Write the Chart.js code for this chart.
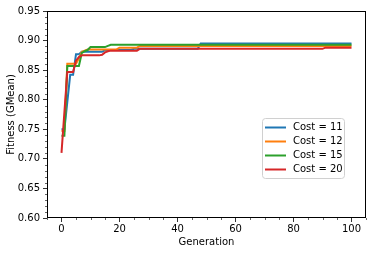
<!DOCTYPE html>
<html><head><meta charset="utf-8">
<script src="https://cdn.jsdelivr.net/npm/chart.js@4/dist/chart.umd.min.js"></script>
<style>html,body{margin:0;padding:0;background:#fff}#wrap{width:374px;height:254px;position:relative}</style>
</head><body><div id="wrap"><canvas id="c"></canvas></div>
<script>
const generations = [0,1,2,3,4,5,6,7,8,9,10,11,12,13,14,15,16,17,18,19,20,21,22,23,24,25,26,27,28,29,30,31,32,33,34,35,36,37,38,39,40,41,42,43,44,45,46,47,48,49,50,51,52,53,54,55,56,57,58,59,60,61,62,63,64,65,66,67,68,69,70,71,72,73,74,75,76,77,78,79,80,81,82,83,84,85,86,87,88,89,90,91,92,93,94,95,96,97,98,99,100];

const seriesLabels = ['Cost = 11','Cost = 12','Cost = 15','Cost = 20'];

const cost11 = [0.750,0.750,0.796,0.842,0.842,0.877,0.877,0.881,0.881,0.881,
0.881,0.881,0.881,0.881,0.881,0.884,0.884,0.884,0.884,0.884,
0.884,0.884,0.884,0.884,0.884,0.886,0.886,0.886,0.886,0.886,
0.886,0.886,0.886,0.886,0.886,0.886,0.886,0.886,0.886,0.886,
0.886,0.886,0.886,0.886,0.886,0.886,0.886,0.886,0.895,0.895,
0.895,0.895,0.895,0.895,0.895,0.895,0.895,0.895,0.895,0.895,
0.895,0.895,0.895,0.895,0.895,0.895,0.895,0.895,0.895,0.895,
0.895,0.895,0.895,0.895,0.895,0.895,0.895,0.895,0.895,0.895,
0.895,0.895,0.895,0.895,0.895,0.895,0.895,0.895,0.895,0.895,
0.895,0.895,0.895,0.895,0.895,0.895,0.895,0.895,0.895,0.895,
0.895];

const cost12 = [0.747,0.747,0.861,0.861,0.861,0.861,0.870,0.881,0.883,0.885,
0.885,0.885,0.885,0.885,0.885,0.885,0.885,0.885,0.885,0.885,
0.888,0.888,0.888,0.888,0.888,0.888,0.888,0.891,0.891,0.891,
0.891,0.891,0.891,0.891,0.891,0.891,0.891,0.891,0.891,0.891,
0.891,0.891,0.891,0.891,0.891,0.891,0.891,0.891,0.891,0.891,
0.891,0.891,0.891,0.891,0.891,0.891,0.891,0.891,0.891,0.891,
0.891,0.891,0.891,0.891,0.891,0.891,0.891,0.891,0.891,0.891,
0.891,0.891,0.891,0.891,0.891,0.891,0.891,0.891,0.891,0.891,
0.891,0.891,0.891,0.891,0.891,0.891,0.891,0.891,0.891,0.891,
0.891,0.891,0.891,0.891,0.891,0.891,0.891,0.891,0.891,0.891,
0.891];

const cost15 = [0.739,0.739,0.857,0.857,0.857,0.857,0.857,0.879,0.882,0.884,
0.889,0.889,0.889,0.889,0.889,0.889,0.891,0.893,0.893,0.893,
0.893,0.893,0.893,0.893,0.893,0.893,0.893,0.893,0.893,0.893,
0.893,0.893,0.893,0.893,0.893,0.893,0.893,0.893,0.893,0.893,
0.893,0.893,0.893,0.893,0.893,0.893,0.893,0.893,0.893,0.893,
0.893,0.893,0.893,0.893,0.893,0.893,0.893,0.893,0.893,0.893,
0.893,0.893,0.893,0.893,0.893,0.893,0.893,0.893,0.893,0.893,
0.893,0.893,0.893,0.893,0.893,0.893,0.893,0.893,0.893,0.893,
0.893,0.893,0.893,0.893,0.893,0.893,0.893,0.893,0.893,0.893,
0.893,0.893,0.893,0.893,0.893,0.893,0.893,0.893,0.893,0.893,
0.893];

const cost20 = [0.710,0.779,0.847,0.847,0.847,0.866,0.872,0.875,0.875,0.875,
0.875,0.875,0.875,0.875,0.876,0.880,0.882,0.883,0.883,0.883,
0.883,0.883,0.883,0.883,0.883,0.883,0.883,0.886,0.886,0.886,
0.886,0.886,0.886,0.886,0.886,0.886,0.886,0.886,0.886,0.886,
0.886,0.886,0.886,0.886,0.886,0.886,0.886,0.886,0.886,0.886,
0.886,0.886,0.886,0.886,0.886,0.886,0.886,0.886,0.886,0.886,
0.886,0.886,0.886,0.886,0.886,0.886,0.886,0.886,0.886,0.886,
0.886,0.886,0.886,0.886,0.886,0.886,0.886,0.886,0.886,0.886,
0.886,0.886,0.886,0.886,0.886,0.886,0.886,0.886,0.886,0.886,
0.886,0.888,0.888,0.888,0.888,0.888,0.888,0.888,0.888,0.888,
0.888];

const xTickValues = [0,20,40,60,80,100];
const xMinorValues = [-5,5,10,15,25,30,35,45,50,55,65,70,75,85,90,95,105];
const yTickValues = [0.60,0.65,0.70,0.75,0.80,0.85,0.90,0.95];
const yMinorValues = [0.61,0.62,0.63,0.64,0.66,0.67,0.68,0.69,0.71,0.72,0.73,0.74,0.76,0.77,0.78,0.79,0.81,0.82,0.83,0.84,0.86,0.87,0.88,0.89,0.91,0.92,0.93,0.94];

const colors = ['#1f77b4','#ff7f0e','#2ca02c','#d62728'];
const FONT = 'DejaVu Sans';

const decor = {
  id: 'decor',
  afterDraw(chart) {
    const ctx = chart.ctx, a = chart.chartArea;
    const xs = chart.scales.x, ys = chart.scales.y;
    ctx.save();
    ctx.strokeStyle = '#000'; ctx.lineWidth = 0.6;
    ctx.beginPath();
    xMinorValues.forEach(v => { const px = Math.round(xs.getPixelForValue(v)) + 0.5; ctx.moveTo(px, a.bottom); ctx.lineTo(px, a.bottom + 2); });
    yMinorValues.forEach(v => { const py = Math.round(ys.getPixelForValue(v)) + 0.5; ctx.moveTo(a.left, py); ctx.lineTo(a.left - 2, py); });
    ctx.stroke();
    ctx.lineWidth = 1; ctx.strokeStyle = '#000';
    ctx.strokeRect(Math.round(a.left) + 0.5, Math.round(a.top) + 0.5, Math.round(a.right - a.left) - 1, Math.round(a.bottom - a.top) - 1);
    const lx = a.right - 104, ly = a.bottom - 100, lw = 82, lh = 60;
    ctx.fillStyle = 'rgba(255,255,255,0.8)';
    ctx.strokeStyle = '#d0d0d0'; ctx.lineWidth = 1;
    ctx.beginPath();
    if (ctx.roundRect) ctx.roundRect(lx + 0.5, ly + 0.5, lw, lh, 3); else ctx.rect(lx + 0.5, ly + 0.5, lw, lh);
    ctx.fill(); ctx.stroke();
    ctx.font = '10px "' + FONT + '"';
    ctx.textBaseline = 'middle'; ctx.textAlign = 'left';
    chart.data.datasets.forEach((ds, i) => {
      const cy = ly + 9.5 + i * 14;
      ctx.strokeStyle = ds.borderColor; ctx.lineWidth = 2;
      ctx.beginPath(); ctx.moveTo(lx + 3, cy); ctx.lineTo(lx + 24, cy); ctx.stroke();
      ctx.fillStyle = '#000';
      ctx.fillText(ds.label, lx + 31, cy);
    });
    ctx.restore();
  }
};

new Chart(document.getElementById('c'), {
  type: 'line',
  data: {
    labels: generations,
    datasets: [cost11, cost12, cost15, cost20].map((d, i) => ({
      label: seriesLabels[i], data: d, borderColor: colors[i], backgroundColor: colors[i],
      borderWidth: 2, pointRadius: 0, tension: 0, fill: false, order: 3 - i
    }))
  },
  options: {
    responsive: true, maintainAspectRatio: false, animation: false,
    layout: { padding: { top: 11, right: 8, left: 0, bottom: 0 } },
    plugins: { legend: { display: false }, tooltip: { enabled: false } },
    scales: {
      x: {
        type: 'linear', min: -5, max: 105,
        afterBuildTicks: s => { s.ticks = xTickValues.map(v => ({ value: v })); },
        afterFit: s => { s.height = 36; s.paddingLeft = 0; s.paddingRight = 0; },
        grid: { drawOnChartArea: false, drawTicks: true, tickLength: 4, color: '#000', tickWidth: 0.8 },
        border: { display: false },
        ticks: { color: '#000', font: { family: FONT, size: 10 }, padding: 1, maxRotation: 0, autoSkip: false },
        title: { display: true, text: 'Generation', color: '#000', font: { family: FONT, size: 10 }, padding: { top: 0, bottom: 6 } }
      },
      y: {
        min: 0.6, max: 0.95,
        afterBuildTicks: s => { s.ticks = yTickValues.map(v => ({ value: v })); },
        afterFit: s => { s.width = 47; s.paddingTop = 0; s.paddingBottom = 0; },
        grid: { drawOnChartArea: false, drawTicks: true, tickLength: 4, color: '#000', tickWidth: 0.8 },
        border: { display: false },
        ticks: { color: '#000', font: { family: FONT, size: 10 }, padding: 3, callback: v => v.toFixed(2) },
        title: { display: true, text: 'Fitness (GMean)', color: '#000', font: { family: FONT, size: 10 }, padding: { top: 5, bottom: 0 } }
      }
    }
  },
  plugins: [decor]
});
</script></body></html>
